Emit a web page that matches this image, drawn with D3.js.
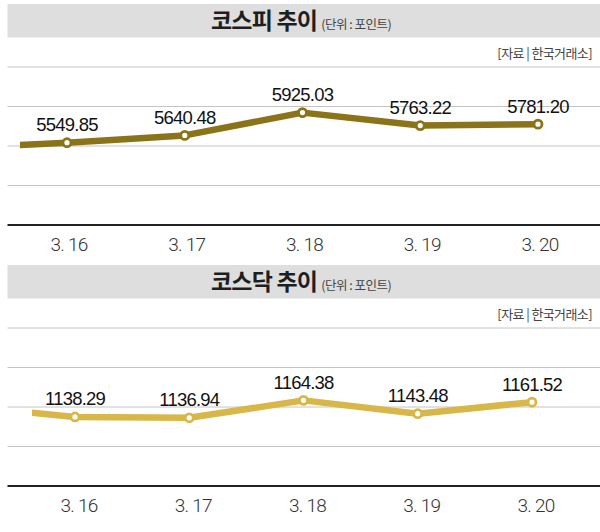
<!DOCTYPE html>
<html>
<head>
<meta charset="utf-8">
<script src="https://cdn.jsdelivr.net/npm/d3@7"></script>
<style>
    body { margin: 0; background: #fff; }
    svg { display: block; }
</style>
</head>
<body>
<div id="chart"></div>
<script>
// Data
const dates = ['3. 16', '3. 17', '3. 18', '3. 19', '3. 20'];
const kospi = [5549.85, 5640.48, 5925.03, 5763.22, 5781.20];
const kosdaq = [1138.29, 1136.94, 1164.38, 1143.48, 1161.52];
// previous session (3. 13), only the stub at the left edge shows
const kospiPrev = 5480;
const kosdaqPrev = 1156;

const width = 600;
const height = 532;

const svg = d3.select('#chart')
    .append('svg')
    .attr('width', width)
    .attr('height', height);

const panels = [
    {
        id: 'kospi', top: 0, title: '코스피 추이', values: kospi, prev: kospiPrev,
        color: '#8a7318', xRange: [67, 538], yDomain: [5500, 6000], yRange: [146.7, 106.6],
        clipX: 20, labelShift: 2
    },
    {
        id: 'kosdaq', top: 261, title: '코스닥 추이', values: kosdaq, prev: kosdaqPrev,
        color: '#d8b648', xRange: [75, 532], yDomain: [1100, 1200], yRange: [180.3, 116.7],
        clipX: 32, labelShift: 4
    }
];

const fmt = d3.format('.2f');

panels.forEach(p => {
    const g = svg.append('g').attr('transform', `translate(0,${p.top})`);

    // Title bar
    g.append('rect')
        .attr('x', 7.5)
        .attr('y', 4)
        .attr('width', width - 7.5)
        .attr('height', 33.5)
        .attr('fill', '#dedede');

    const title = g.append('text')
        .attr('x', 211)
        .attr('y', 28.5)
        .attr('font-family', '"Noto Sans CJK KR", sans-serif')
        .attr('fill', '#1e1e1e');
    title.append('tspan')
        .attr('font-size', '23px')
        .attr('font-weight', 'bold')
        .attr('letter-spacing', '-0.8px')
        .text(p.title);
    title.append('tspan')
        .attr('dx', 4)
        .attr('font-size', '12.5px')
        .attr('fill', '#444')
        .attr('letter-spacing', '-0.5px')
        .text('(단위 : 포인트)');

    // Source
    g.append('text')
        .attr('x', 592)
        .attr('y', 58)
        .attr('text-anchor', 'end')
        .attr('font-family', '"Noto Sans CJK KR", sans-serif')
        .attr('font-size', '13px')
        .attr('fill', '#444')
        .attr('letter-spacing', '-0.6px')
        .text('[자료 | 한국거래소]');

    // Gridlines
    const gridTop = 67;
    const gridStep = 39.5;
    g.selectAll('.grid')
        .data(d3.range(4))
        .enter()
        .append('line')
        .attr('x1', 7.5)
        .attr('x2', width)
        .attr('y1', i => gridTop + i * gridStep)
        .attr('y2', i => gridTop + i * gridStep)
        .attr('stroke', '#c4c4c4')
        .attr('stroke-width', 1);

    // Base line
    g.append('line')
        .attr('x1', 7.5)
        .attr('x2', width)
        .attr('y1', gridTop + 4 * gridStep)
        .attr('y2', gridTop + 4 * gridStep)
        .attr('stroke', '#222')
        .attr('stroke-width', 2);

    const x = d3.scaleLinear().domain([0, 4]).range(p.xRange);
    const y = d3.scaleLinear().domain(p.yDomain).range(p.yRange);

    // X labels
    g.selectAll('.xlabel')
        .data(dates)
        .enter()
        .append('text')
        .attr('x', (d, i) => x(i) + p.labelShift)
        .attr('y', 251)
        .attr('text-anchor', 'middle')
        .attr('font-family', 'Roboto, "Liberation Sans", sans-serif')
        .attr('font-weight', 300)
        .attr('font-size', '19px')
        .attr('fill', '#333')
        .attr('letter-spacing', '-0.8px')
        .text(d => d);

    // Line (with previous session stub, clipped at the left)
    const clipId = `clip-${p.id}`;
    g.append('clipPath')
        .attr('id', clipId)
        .append('rect')
        .attr('x', p.clipX)
        .attr('y', 0)
        .attr('width', width - p.clipX)
        .attr('height', 260);

    const series = [{ i: -1, v: p.prev }].concat(p.values.map((v, i) => ({ i, v })));

    const line = d3.line()
        .x(d => x(d.i))
        .y(d => y(d.v));

    g.append('path')
        .datum(series)
        .attr('clip-path', `url(#${clipId})`)
        .attr('d', line)
        .attr('fill', 'none')
        .attr('stroke', p.color)
        .attr('stroke-width', 6.5)
        .attr('stroke-linejoin', 'round');

    const pts = series.filter(d => d.i >= 0);

    g.selectAll('.dot')
        .data(pts)
        .enter()
        .append('circle')
        .attr('cx', d => x(d.i))
        .attr('cy', d => y(d.v))
        .attr('r', 4)
        .attr('fill', '#fff')
        .attr('stroke', p.color)
        .attr('stroke-width', 2.8);

    // Value labels
    g.selectAll('.vlabel')
        .data(pts)
        .enter()
        .append('text')
        .attr('x', d => x(d.i))
        .attr('y', d => y(d.v) - 11.5)
        .attr('text-anchor', 'middle')
        .attr('font-family', '"Liberation Sans", Arial, sans-serif')
        .attr('font-size', '18.5px')
        .attr('fill', '#111')
        .attr('letter-spacing', '-0.8px')
        .text(d => fmt(d.v));
});
</script>
</body>
</html>
